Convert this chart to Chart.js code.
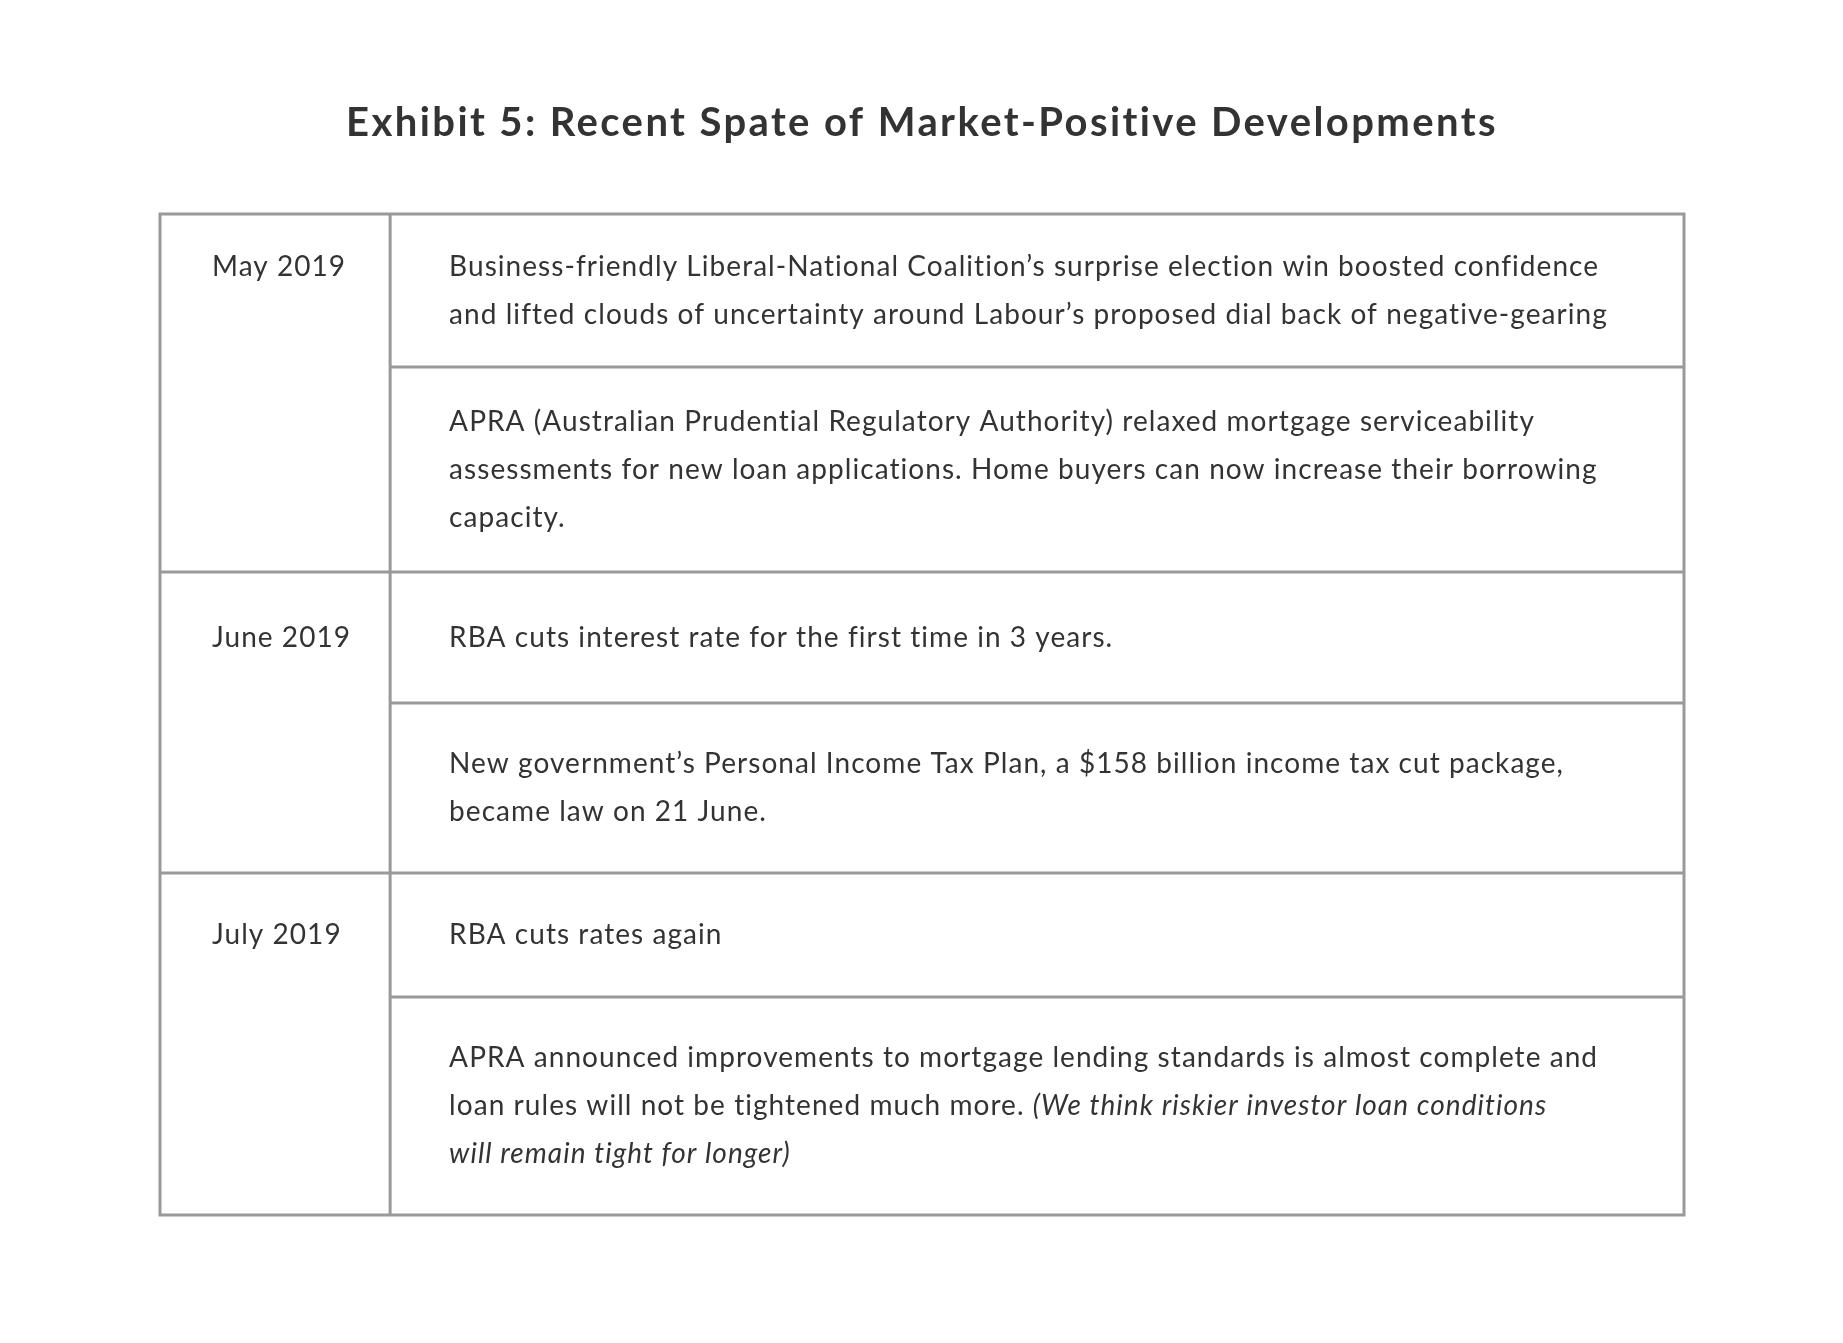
<!DOCTYPE html>
<html>
<head>
<meta charset="utf-8">
<script src="https://cdn.jsdelivr.net/npm/chart.js@4"></script>
<style>
  html, body { margin: 0; padding: 0; background: #ffffff; }
  #wrap { width: 1843px; height: 1343px; }
</style>
</head>
<body>
<div id="wrap"><canvas id="c" width="1843" height="1343"></canvas></div>
<script>
// ---------- DATA ----------
const TITLE = 'Exhibit 5: Recent Spate of Market-Positive Developments';
const periods = ['May 2019', 'June 2019', 'July 2019'];
// which period each description row belongs to
const periodOfRow = [0, 0, 1, 1, 2, 2];
// description rows, split into lines as in the original; *...* marks italic text
const descriptions = [
  ['Business-friendly Liberal-National Coalition’s surprise election win boosted confidence',
   'and lifted clouds of uncertainty around Labour’s proposed dial back of negative-gearing'],
  ['APRA (Australian Prudential Regulatory Authority) relaxed mortgage serviceability',
   'assessments for new loan applications. Home buyers can now increase their borrowing',
   'capacity.'],
  ['RBA cuts interest rate for the first time in 3 years.'],
  ['New government’s Personal Income Tax Plan, a $158 billion income tax cut package,',
   'became law on 21 June.'],
  ['RBA cuts rates again'],
  ['APRA announced improvements to mortgage lending standards is almost complete and',
   'loan rules will not be tightened much more. *(We think riskier investor loan conditions*',
   '*will remain tight for longer)*']
];

// ---------- LAYOUT / STYLE ----------
const rowHeights = [153, 205, 131, 170, 124, 218];   // px, one per description row
const dividerFrac = 0.151;                             // first column width as fraction of table
const dateInset = 52, descInset = 59, lineStep = 48, textShift = 0;
const textColor = '#333333', borderColor = '#999999', borderWidth = 3;
const bodyFont = '28px Lato';
const italicFont = 'italic 28px Lato';
const bodySpacing = '1.05px', titleSpacing = '2.4px';

function parseSegments(line) {
  const parts = line.split('*');
  return parts.map((t, i) => ({ text: t, italic: i % 2 === 1 })).filter(s => s.text.length);
}

const tablePlugin = {
  id: 'tablePlugin',
  beforeDraw(chart) {
    chart.ctx.letterSpacing = titleSpacing;
  },
  afterDraw(chart) {
    const ctx = chart.ctx;
    const xs = chart.scales.x, ys = chart.scales.y;
    const total = rowHeights.reduce((a, b) => a + b, 0);
    const X = v => xs.getPixelForValue(v);
    const Y = v => ys.getPixelForValue(v);
    const x0 = X(0), x1 = X(1), xd = X(dividerFrac);

    const bounds = [0];
    rowHeights.forEach(h => bounds.push(bounds[bounds.length - 1] + h));

    ctx.save();
    ctx.letterSpacing = bodySpacing;
    ctx.strokeStyle = borderColor;
    ctx.lineWidth = borderWidth;
    ctx.lineCap = 'square';
    ctx.beginPath();
    ctx.rect(x0, Y(0), x1 - x0, Y(total) - Y(0));
    ctx.moveTo(xd, Y(0)); ctx.lineTo(xd, Y(total));
    for (let i = 1; i < rowHeights.length; i++) {
      const newGroup = periodOfRow[i] !== periodOfRow[i - 1];
      ctx.moveTo(newGroup ? x0 : xd, Y(bounds[i]));
      ctx.lineTo(x1, Y(bounds[i]));
    }
    ctx.stroke();

    ctx.fillStyle = textColor;
    ctx.textBaseline = 'middle';
    ctx.textAlign = 'left';
    const firstLineY = [];
    descriptions.forEach((lines, r) => {
      const center = (bounds[r] + bounds[r + 1]) / 2 + textShift;
      const startY = center - (lines.length - 1) * lineStep / 2;
      firstLineY.push(startY);
      lines.forEach((line, li) => {
        let x = xd + descInset;
        const y = Y(startY + li * lineStep);
        parseSegments(line).forEach(seg => {
          ctx.font = seg.italic ? italicFont : bodyFont;
          ctx.fillText(seg.text, x, y);
          x += ctx.measureText(seg.text).width;
        });
      });
    });
    periods.forEach((p, pi) => {
      const r = periodOfRow.indexOf(pi);
      ctx.font = bodyFont;
      ctx.fillText(p, x0 + dateInset, Y(firstLineY[r]));
    });
    ctx.restore();
    ctx.letterSpacing = '0px';
  }
};

const totalUnits = rowHeights.reduce((a, b) => a + b, 0);

new Chart(document.getElementById('c'), {
  type: 'scatter',
  data: { datasets: [{ data: [], pointRadius: 0 }] },
  options: {
    responsive: false,
    animation: false,
    events: [],
    layout: { padding: { left: 160, right: 159, top: 0, bottom: 128 } },
    scales: {
      x: { type: 'linear', min: 0, max: 1, display: false },
      y: { type: 'linear', min: 0, max: totalUnits, reverse: true, display: false }
    },
    plugins: {
      legend: { display: false },
      tooltip: { enabled: false },
      title: {
        display: true,
        text: TITLE,
        color: textColor,
        font: { family: 'Lato', size: 40, weight: 'bold', lineHeight: 1.2 },
        padding: { top: 99, bottom: 67 }
      }
    }
  },
  plugins: [tablePlugin]
});
</script>
</body>
</html>
